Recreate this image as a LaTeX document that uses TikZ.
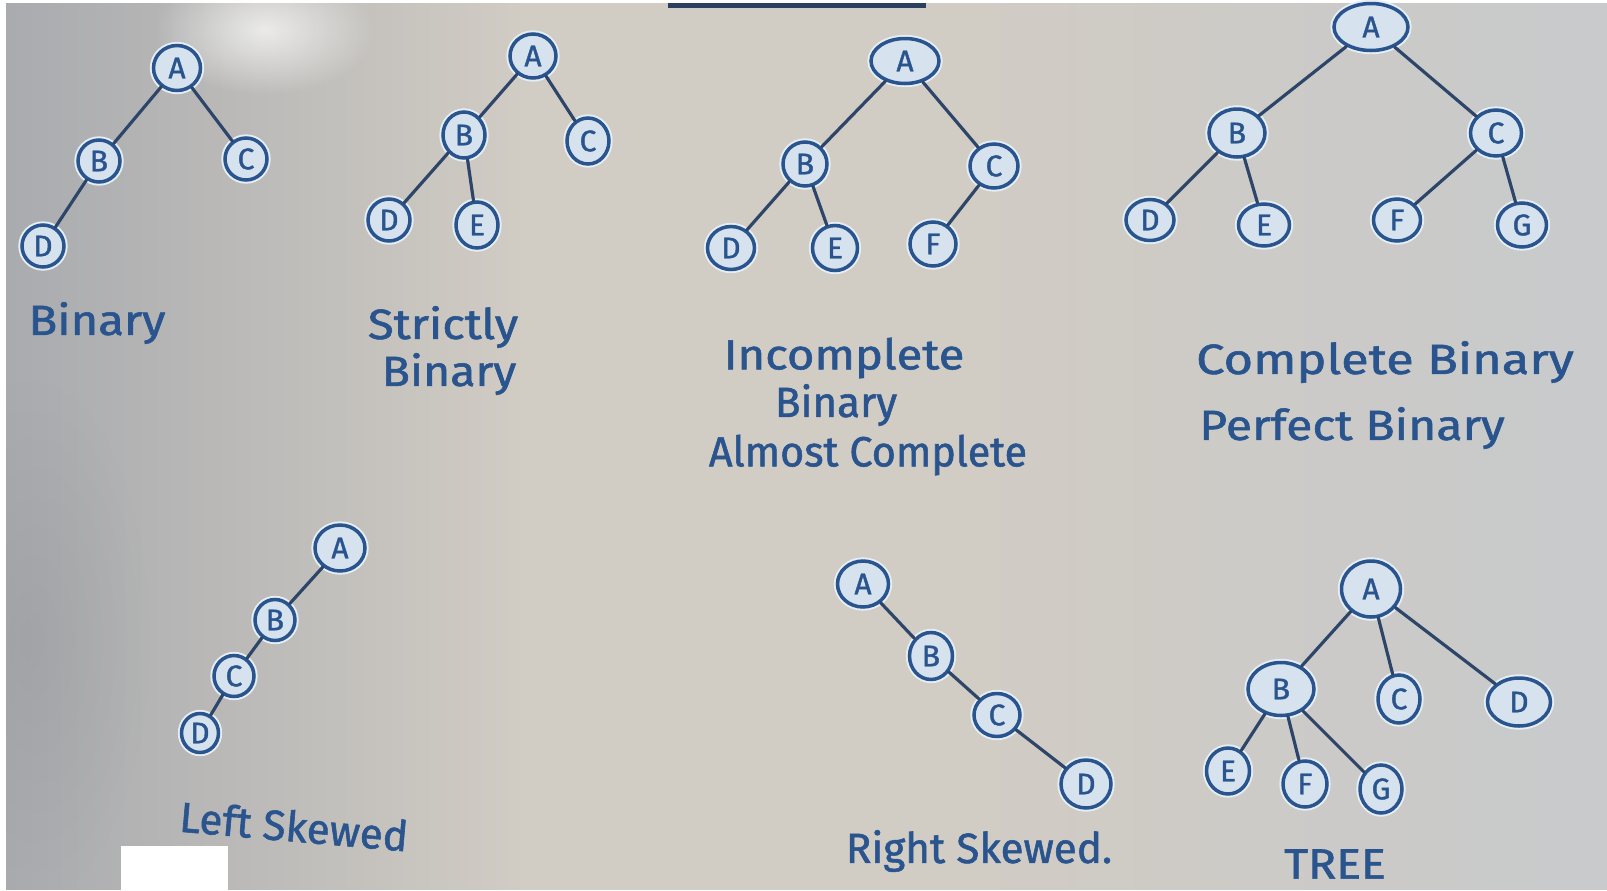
\documentclass[tikz,border=0pt]{standalone}
\usepackage{fontspec}
\setmainfont{Fira Sans}
\newfontfamily\marker{Fira Sans}[FakeBold=1.3]
\usetikzlibrary{shapes.geometric,fadings}

\definecolor{ink}{HTML}{29548E}
\definecolor{wire}{HTML}{2C4568}
\definecolor{glow}{HTML}{D6E3EE}
\definecolor{boardL}{HTML}{A9ABAF}
\definecolor{boardM}{HTML}{D1CCC4}
\definecolor{boardR}{HTML}{C8CACC}
\definecolor{bar}{HTML}{2B3F5E}

\tikzfading[name=softspot, inner color=transparent!0, outer color=transparent!100]
\tikzfading[name=tolight, left color=transparent!0, right color=transparent!100]
\tikzfading[name=fromlight, left color=transparent!100, right color=transparent!0]

\tikzset{
  vtx/.style={ellipse, draw=ink, line width=2pt, fill=glow, text=ink,
    inner sep=0pt, minimum width=0.84cm, minimum height=0.84cm,
    font=\marker\fontsize{17}{17}\selectfont,
    preaction={draw=glow!60!white, line width=4.2pt}},
  edge/.style={draw=wire, line width=1.8pt, line cap=round},
  caption/.style={text=ink, font=\marker\fontsize{24}{28}\selectfont, inner sep=0pt}
}

\begin{document}
\begin{tikzpicture}[x=0.02cm, y=-0.02cm]
  % board with its lighting
  \useasboundingbox (0,0) rectangle (1607,890);
  \fill[boardM] (0,0) rectangle (1607,890);
  \fill[boardL, path fading=tolight] (0,0) rectangle (520,890);
  \fill[boardR, path fading=fromlight] (1000,0) rectangle (1607,890);
  \fill[white, path fading=softspot, opacity=0.7] (265,30) ellipse (110 and 65);
  \fill[boardL!80!black, path fading=softspot, opacity=0.25] (30,640) ellipse (120 and 260);
  \fill[white] (0,0) rectangle (1607,3);
  \fill[white] (0,0) rectangle (6,890);
  \fill[bar] (668,2.5) rectangle (926,7.5);
  \fill[white] (121,846) rectangle (228,890);

  % Binary
  \node[vtx, minimum width=0.94cm, minimum height=0.9cm] (b1a) at (177,68) {A};
  \node[vtx] (b1b) at (99,161) {B};
  \node[vtx] (b1c) at (246,159) {C};
  \node[vtx] (b1d) at (43,246) {D};
  \draw[edge] (b1a) -- (b1b);
  \draw[edge] (b1a) -- (b1c);
  \draw[edge] (b1b) -- (b1d);
  \node[caption, xscale=1.12] (t1) at (97,323) {Binary};

  % Strictly binary
  \node[vtx, minimum width=0.92cm, minimum height=0.88cm] (s2a) at (533,56) {A};
  \node[vtx, minimum height=0.92cm] (s2b) at (464,135) {B};
  \node[vtx, minimum height=0.92cm] (s2c) at (588,141) {C};
  \node[vtx] (s2d) at (389,220) {D};
  \node[vtx, minimum height=0.92cm] (s2e) at (477,225) {E};
  \draw[edge] (s2a) -- (s2b);
  \draw[edge] (s2a) -- (s2c);
  \draw[edge] (s2b) -- (s2d);
  \draw[edge] (s2b) -- (s2e);
  \node[caption, xscale=1.12] (t2a) at (443,327) {Strictly};
  \node[caption, xscale=1.1] (t2b) at (449,374) {Binary};

  % Incomplete binary
  \node[vtx, minimum width=1.36cm, minimum height=0.9cm] (i3a) at (905,61) {A};
  \node[vtx, minimum width=0.88cm, minimum height=0.88cm] (i3b) at (805,164) {B};
  \node[vtx, minimum width=0.96cm, minimum height=0.88cm] (i3c) at (994,166) {C};
  \node[vtx, minimum width=0.94cm, minimum height=0.86cm] (i3d) at (731,248) {D};
  \node[vtx, minimum width=0.9cm, minimum height=0.9cm] (i3e) at (835,248) {E};
  \node[vtx, minimum width=0.92cm, minimum height=0.88cm] (i3f) at (933,244) {F};
  \draw[edge] (i3a) -- (i3b);
  \draw[edge] (i3a) -- (i3c);
  \draw[edge] (i3b) -- (i3d);
  \draw[edge] (i3b) -- (i3e);
  \draw[edge] (i3c) -- (i3f);
  \node[caption, xscale=1.12] (t3a) at (844,358) {Incomplete};
  \node[caption] (t3b) at (836,405) {Binary};
  \node[caption, xscale=0.98] (t3c) at (868,455) {Almost Complete};

  % Complete / perfect binary
  \node[vtx, minimum width=1.48cm, minimum height=0.94cm] (c4a) at (1371,27) {A};
  \node[vtx, minimum width=1.12cm, minimum height=0.96cm] (c4b) at (1237,133) {B};
  \node[vtx, minimum width=1.02cm, minimum height=0.92cm] (c4c) at (1496,133) {C};
  \node[vtx, minimum width=0.96cm, minimum height=0.82cm] (c4d) at (1150,220) {D};
  \node[vtx, minimum width=1.02cm, minimum height=0.84cm] (c4e) at (1264,225) {E};
  \node[vtx, minimum width=0.94cm, minimum height=0.84cm] (c4f) at (1397,220) {F};
  \node[vtx, minimum width=0.98cm, minimum height=0.88cm] (c4g) at (1522,225) {G};
  \draw[edge] (c4a) -- (c4b);
  \draw[edge] (c4a) -- (c4c);
  \draw[edge] (c4b) -- (c4d);
  \draw[edge] (c4b) -- (c4e);
  \draw[edge] (c4c) -- (c4f);
  \draw[edge] (c4c) -- (c4g);
  \node[caption, xscale=1.2] (t4a) at (1385,362) {Complete Binary};
  \node[caption, xscale=1.14] (t4b) at (1352,428) {Perfect Binary};

  % Left skewed
  \node[vtx, minimum width=1.0cm, minimum height=0.92cm] (l5a) at (340,548) {A};
  \node[vtx, minimum width=0.8cm, minimum height=0.82cm] (l5b) at (275,620) {B};
  \node[vtx, minimum width=0.8cm, minimum height=0.82cm] (l5c) at (234,676) {C};
  \node[vtx, minimum width=0.74cm, minimum height=0.78cm] (l5d) at (200,733) {D};
  \draw[edge] (l5a) -- (l5b);
  \draw[edge] (l5b) -- (l5c);
  \draw[edge] (l5c) -- (l5d);
  \node[caption, rotate=-5] (t5) at (294,826) {Left Skewed};

  % Right skewed
  \node[vtx, minimum width=1.02cm, minimum height=0.92cm] (r6a) at (863,584) {A};
  \node[vtx, minimum width=0.86cm, minimum height=0.94cm] (r6b) at (931,656) {B};
  \node[vtx, minimum width=0.92cm, minimum height=0.86cm] (r6c) at (997,715) {C};
  \node[vtx, minimum width=1.0cm, minimum height=0.96cm] (r6d) at (1086,784) {D};
  \draw[edge] (r6a) -- (r6b);
  \draw[edge] (r6b) -- (r6c);
  \draw[edge] (r6c) -- (r6d);
  \node[caption] (t6) at (979,851) {Right Skewed.};

  % General tree
  \node[vtx, minimum width=1.18cm, minimum height=1.12cm] (g7a) at (1371,589) {A};
  \node[vtx, minimum width=1.32cm, minimum height=1.06cm] (g7b) at (1281,689) {B};
  \node[vtx, minimum width=0.84cm, minimum height=0.96cm] (g7c) at (1399,699) {C};
  \node[vtx, minimum width=1.26cm, minimum height=0.96cm] (g7d) at (1519,702) {D};
  \node[vtx, minimum width=0.86cm, minimum height=0.92cm] (g7e) at (1228,771) {E};
  \node[vtx, minimum width=0.88cm, minimum height=0.92cm] (g7f) at (1305,784) {F};
  \node[vtx, minimum width=0.84cm, minimum height=0.96cm] (g7g) at (1381,789) {G};
  \draw[edge] (g7a) -- (g7b);
  \draw[edge] (g7a) -- (g7c);
  \draw[edge] (g7a) -- (g7d);
  \draw[edge] (g7b) -- (g7e);
  \draw[edge] (g7b) -- (g7f);
  \draw[edge] (g7b) -- (g7g);
  \node[caption, xscale=1.1] (t7) at (1335,864) {TREE};
\end{tikzpicture}
\end{document}
